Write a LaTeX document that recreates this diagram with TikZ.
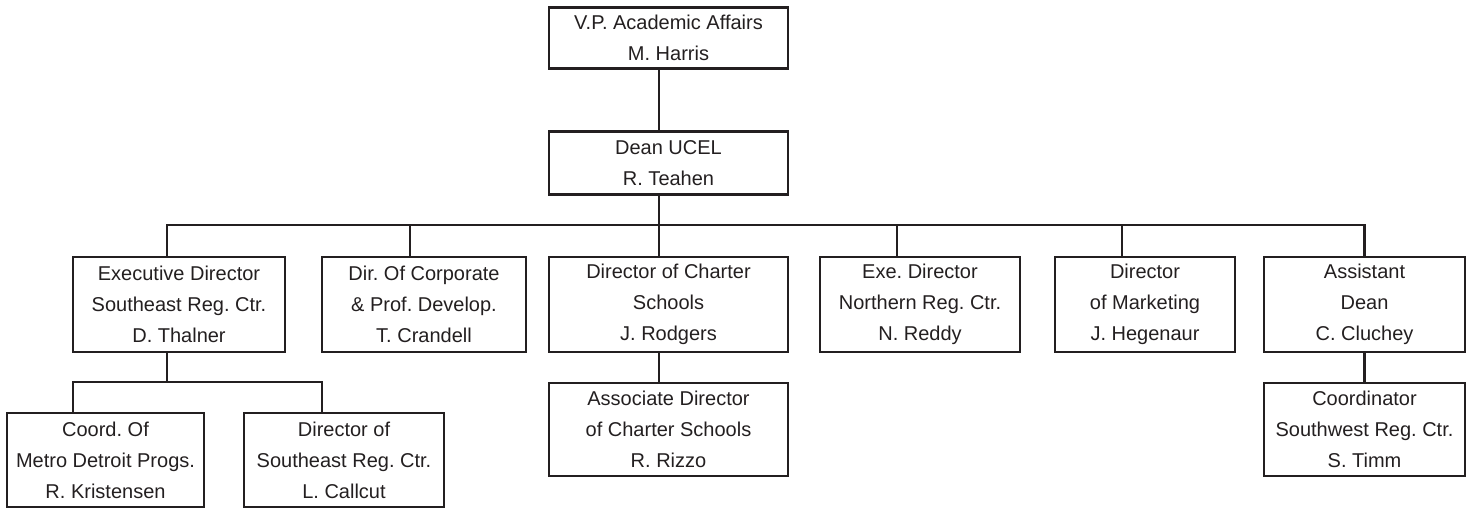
\documentclass[tikz,border=0pt]{standalone}
\usepackage{fontspec}
\setmainfont{Liberation Sans}
\usepackage{tikz}
\usetikzlibrary{calc}
\definecolor{orgink}{RGB}{35, 31, 32}
\frenchspacing

\tikzset{
  post/.style={draw=orgink, text=orgink, line width=2.8pt, align=center,
    inner sep=0pt, font=\fontsize{20}{31}\selectfont},
  link/.style={draw=orgink, line width=2.8pt},
}

\begin{document}
\begin{tikzpicture}[x=1pt, y=-1pt]
\useasboundingbox (0,0) rectangle (1474,508);

% Top of the chart
\node[post, minimum width=239pt, minimum height=61pt,
  font=\fontsize{20}{31}\selectfont] (vp) at (668.5,38) {V.P. Academic Affairs\\M. Harris};
\node[post, minimum width=239pt, minimum height=63pt,
  font=\fontsize{20}{31}\selectfont] (dean) at (668.5,163) {Dean UCEL\\R. Teahen};

% Bus points
\coordinate (b1) at (167,225);
\coordinate (b2) at (410,225);
\coordinate (b3) at (659,225);
\coordinate (b4) at (897,225);
\coordinate (b5) at (1122,225);
\coordinate (b6) at (1364.5,225);

% Second row
\node[post, minimum width=212pt, minimum height=95pt] (exec) at (179,304.5)
  {Executive Director\\Southeast Reg. Ctr.\\D. Thalner};
\node[post, minimum width=204pt, minimum height=95pt] (corp) at (424,304.5)
  {Dir. Of Corporate\\\& Prof. Develop.\\T. Crandell};
\node[post, minimum width=239pt, minimum height=95pt] (charter) at (668.5,304.5)
  {Director of Charter\\Schools\\J. Rodgers};
\node[post, minimum width=200pt, minimum height=95pt] (north) at (920,304.5)
  {Exe. Director\\Northern Reg. Ctr.\\N. Reddy};
\node[post, minimum width=180pt, minimum height=95pt] (mkt) at (1145,304.5)
  {Director\\of Marketing\\J. Hegenaur};
\node[post, minimum width=201pt, minimum height=95pt] (asst) at (1364.5,304.5)
  {Assistant\\Dean\\C. Cluchey};

% Third row
\coordinate (l0) at (167,382);
\coordinate (l1) at (73,382);
\coordinate (l2) at (322,382);
\node[post, minimum width=197pt, minimum height=94pt] (metro) at (105.5,460)
  {Coord. Of\\Metro Detroit Progs.\\R. Kristensen};
\node[post, minimum width=200pt, minimum height=94pt] (sereg) at (344,460)
  {Director of\\Southeast Reg. Ctr.\\L. Callcut};
\node[post, minimum width=239pt, minimum height=93pt] (assoc) at (668.5,429.5)
  {Associate Director\\of Charter Schools\\R. Rizzo};
\node[post, minimum width=201pt, minimum height=93pt] (swreg) at (1364.5,429.5)
  {Coordinator\\Southwest Reg. Ctr.\\S. Timm};

% Connectors
\draw[link] (vp.south -| b3) -- (dean.north -| b3);
\draw[link] (dean.south -| b3) -- (b3);
\draw[link] (exec.north -| b1) |- (b6) -- (asst.north -| b6);
\draw[link] (corp.north -| b2) -- (b2);
\draw[link] (charter.north -| b3) -- (b3);
\draw[link] (north.north -| b4) -- (b4);
\draw[link] (mkt.north -| b5) -- (b5);
\draw[link] (exec.south -| l0) -- (l0);
\draw[link] (metro.north -| l1) |- (l2) -- (sereg.north -| l2);
\draw[link] (charter.south -| b3) -- (assoc.north -| b3);
\draw[link] (asst.south) -- (swreg.north);
\end{tikzpicture}
\end{document}
